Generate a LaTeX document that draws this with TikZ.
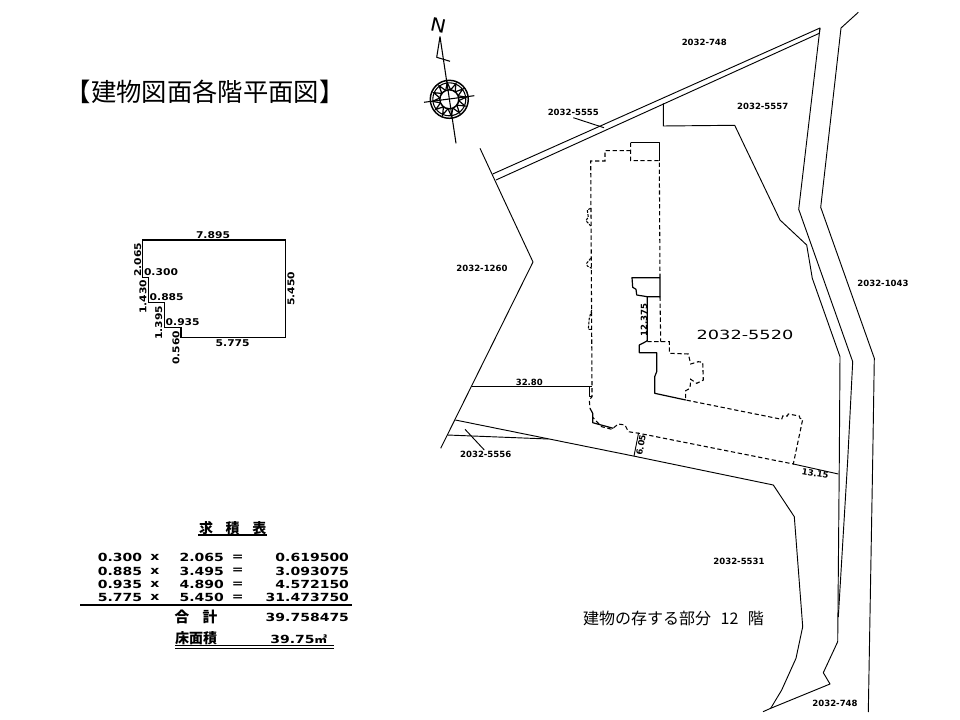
\documentclass[tikz,border=0pt]{standalone}
\usepackage{fontspec}
\setmainfont{DejaVu Sans}
\newfontfamily\cjk{Noto Sans CJK JP}
\usetikzlibrary{calc}
\tikzset{
  lotlabel/.style={inner sep=0pt, font=\bfseries\fontsize{6.4}{8}\selectfont},
  dimlabel/.style={inner sep=0pt, xscale=1.15, font=\bfseries\fontsize{7}{8}\selectfont},
  rowlabel/.style={inner sep=0pt, xscale=1.25, font=\bfseries\fontsize{8.4}{10}\selectfont},
  kanji/.style={inner sep=0pt, font=\cjk\fontsize{#1}{#1}\selectfont},
  boldkanji/.style={inner sep=0pt, font=\cjk\bfseries\fontsize{#1}{#1}\selectfont},
  plan/.style={line width=0.7pt, line join=round},
  wall/.style={line width=0.8pt, dash pattern=on 3.2pt off 2pt},
  outline/.style={line width=1.1pt, line join=miter}
}
\begin{document}
\begin{tikzpicture}[x=0.75pt, y=-0.75pt]
\useasboundingbox (0,0) rectangle (960,720);
%title
\node[kanji=19] (title) at (205,92) {【建物図面各階平面図】};
%floor outline
\draw[outline] (142.3,240) -- (285.7,240) -- (285.7,337.3) -- (181,337.3) -- (181,327.7) -- (164.3,327.7) -- (164.3,302.7) -- (148.7,302.7) -- (148.7,277.7) -- (142.3,277.7) -- cycle;
\node[dimlabel] (top) at (213,235) {7.895};
\node[rotate=90, dimlabel] (right) at (291,289) {5.450};
\node[dimlabel] (bottom) at (232.7,343) {5.775};
\node[dimlabel] (w1) at (161,272) {0.300};
\node[dimlabel] (w2) at (166.7,297.3) {0.885};
\node[dimlabel] (w3) at (182.7,322.3) {0.935};
\node[rotate=90, dimlabel] (h1) at (137.7,260) {2.065};
\node[rotate=90, dimlabel] (h2) at (143,297) {1.430};
\node[rotate=90, dimlabel] (h3) at (158.7,323) {1.395};
\node[rotate=90, dimlabel] (h4) at (176,348) {0.560};
%area table
\node[boldkanji=10.5] (head) at (232.7,528) {求\hspace{0.9em}積\hspace{0.9em}表};
\draw[line width=0.9pt] (198,535) -- (267,535);
\foreach \row/\a/\b/\c/\yy in {1/0.300/2.065/0.619500/557.7, 2/0.885/3.495/3.093075/571, 3/0.935/4.890/4.572150/584.3, 4/5.775/5.450/31.473750/597.7} {
  \node[rowlabel] (a\row) at (120,\yy) {\a};
  \node[rowlabel] (x\row) at (155,\yy) {x};
  \node[rowlabel] (b\row) at (201.7,\yy) {\b};
  \node[rowlabel] (eq\row) at (237.7,\yy) {=};
  \node[rowlabel, anchor=east] (c\row) at (349.3,\yy) {\c};
}
\draw[line width=1pt] (80,605) -- (351.7,605);
\node[boldkanji=11] (sum) at (196,616.7) {合\hspace{0.9em}計};
\node[rowlabel, anchor=east] (sumval) at (349.3,617.3) {39.758475};
\node[boldkanji=10.5] (floor) at (196,638.3) {床面積};
\node[rowlabel, anchor=west] (floorval) at (270,639.5) {39.75{\cjk\fontsize{7.5}{8}\selectfont ㎡}};
\draw[line width=0.8pt] (175,645.7) -- (334.3,645.7);
\draw[line width=0.8pt] (175,648.7) -- (334.3,648.7);
%north mark
\node[rotate=-12, xscale=1.1, font=\fontsize{14}{14}\selectfont, inner sep=0pt] (north) at (438.3,25) {N};
\draw[plan, line width=0.8pt] (440,36.7) -- (456,143.3);
\draw[plan, line width=0.8pt] (440,36.7) -- (436.7,57.3) -- (450,61.3);
\draw[plan, line width=0.8pt] (424,102.3) -- (474.3,95.7);
\begin{scope}[shift={(449.3,99.3)}]
  \draw[line width=1.1pt] (0,0) circle (19);
  \draw[line width=0.8pt] (0,0) circle (16.5);
  \draw[line width=1.1pt] (0,0) circle (9.5);
  \foreach \a in {0,30,...,330} {
    \draw[line width=0.9pt] (\a+8:9.5) -- (\a+23:17) -- (\a+38:9.5);
  }
\end{scope}
%site lines
\draw[plan] (480,148.3) -- (504,200) -- (533,262) -- (440.7,448.3);
\draw[plan] (492.7,174) -- (820,28) -- (819.3,33.3) -- (496,180);
\draw[plan] (820,28) -- (798.7,209.3) -- (852.7,361.7) -- (847.7,460) -- (838.3,617);
\draw[plan] (858.3,12.3) -- (841,28) -- (820.7,207.3) -- (874.3,358.3) -- (872.7,460) -- (868.3,712);
\draw[plan] (663.3,103.3) -- (663.3,126) -- (734.7,125.3) -- (780,220) -- (806.7,245) -- (812.3,278.3) -- (840,356.7) -- (839.3,460) -- (837.7,641.7) -- (823.3,672.7) -- (830,684) -- (770.7,708.3) -- (763,711.7);
\draw[plan] (455.3,420) -- (633.3,456) -- (773.3,485) -- (794.3,516.7) -- (802.7,626.7) -- (796,658.3) -- (781.7,690) -- (770.7,708.3);
\draw[plan] (447.3,435) -- (548.3,439);
\draw[plan] (471.7,386.7) -- (592.3,386.7);
\draw[plan] (638.6,432.8) -- (634,456);
\draw[plan] (793.3,464) -- (838.3,474);
%leaders
\coordinate (lead55a) at (573.3,117.7);
\coordinate (lead55b) at (604,127.7);
\coordinate (lead56a) at (465,429.3);
\coordinate (lead56b) at (484.3,450);
\draw[plan] (lead55a) -- (lead55b);
\draw[plan] (lead56a) -- (lead56b);
%building, solid parts
\draw[plan, line width=0.9pt] (630.7,142.7) -- (659.3,142.7) -- (659.3,160.7);
\draw[plan, line width=0.9pt] (647.3,341) -- (647.3,296.7) -- (660,296.7) -- (660,277.7) -- (632,277.7) -- (632.7,287.3) -- (636,289.3) -- (636.7,295) -- (647.3,296.7);
\draw[plan, line width=0.9pt] (647.3,340.7) -- (643.3,343) -- (639.3,345) -- (639.3,352.7) -- (656.7,352.7) -- (656.7,371.7) -- (654.7,376.7) -- (654.7,393.3) -- (685.7,400);
\draw[plan, line width=0.9pt] (589.3,386.7) -- (589.3,396.7) -- (592,396.7);
\draw[plan, line width=0.9pt] (590,408.3) -- (592.7,413.3) -- (592.7,422.7) -- (613.3,428.3);
%building, dashed parts
\draw[wall] (630.7,142.7) -- (630.7,160.7) -- (659.3,160.7) -- (660,277.7);
\draw[wall] (660,296.7) -- (660.7,341.7);
\draw[wall] (630.7,150.7) -- (605,150.7) -- (605,161) -- (590.7,161) -- (592,386.7) -- (592,396.7) -- (589.3,400) -- (590,408.3);
\draw[wall] (647.3,341.7) -- (669.3,341.7) -- (669.3,353.3) -- (688.3,354) -- (690.7,364) -- (698.3,361.7) -- (702.7,362.3) -- (703.3,380) -- (696.7,383.3) -- (690.7,379.3) -- (690,388.3) -- (685.7,390.7) -- (685.7,400) -- (781.7,419.3) -- (782.7,416) -- (787.3,416) -- (788.3,414) -- (799.3,416) -- (800,418.3) -- (802.7,419.3) -- (793.3,464) -- (639,433.3) -- (628.3,431.7) -- (625,425) -- (618.3,424) -- (611.7,429.3) -- (601.7,426.7) -- (592.7,417.3);
\draw[wall, dash pattern=on 2pt off 1pt] (590.7,208.3) -- (587.3,210) -- (588.3,217) -- (586,220.7) -- (590.7,226);
\draw[wall, dash pattern=on 2pt off 1pt] (590.7,258.3) -- (586.7,263.3) -- (587.3,266) -- (591.7,268.3);
\draw[wall, dash pattern=on 2pt off 1pt] (591.7,310) -- (589.3,318) -- (588.3,329.3) -- (591.7,329.3);
%lot numbers
\node[lotlabel] (lot748a) at (704.3,42.3) {2032-748};
\node[lotlabel] (lot5555) at (573.3,112) {2032-5555};
\node[lotlabel] (lot5557) at (762.7,106) {2032-5557};
\node[lotlabel] (lot1260) at (482,268) {2032-1260};
\node[lotlabel] (lot1043) at (883,283) {2032-1043};
\node[lotlabel] (lot5556) at (485.7,454) {2032-5556};
\node[lotlabel] (lot5531) at (739,561) {2032-5531};
\node[lotlabel] (lot748b) at (835,703.3) {2032-748};
\node[inner sep=0pt, xscale=1.4, font=\fontsize{9.5}{12}\selectfont] (lot5520) at (745,335) {2032-5520};
%distances
\node[lotlabel] (d3280) at (529.3,382.7) {32.80};
\node[lotlabel, rotate=90] (d12375) at (644,320) {12.375};
\node[lotlabel, rotate=80] (d605) at (641,445) {6.05};
\node[lotlabel, rotate=-10] (d1315) at (815.3,473.3) {13.15};
%floor note
\node[kanji=12] (note) at (673.5,618) {建物の存する部分\hspace{0.6em}12\hspace{0.6em}階};
\end{tikzpicture}
\end{document}
